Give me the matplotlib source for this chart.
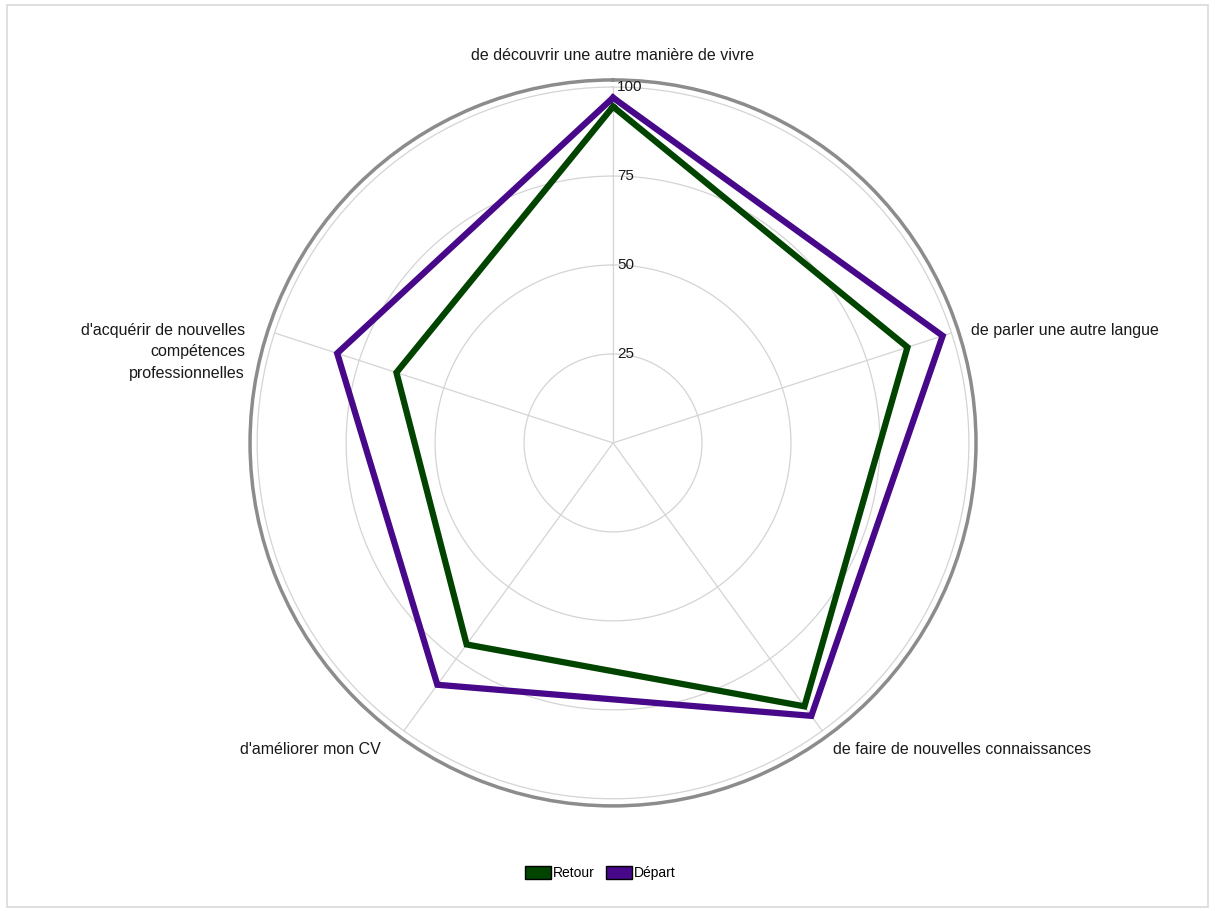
import numpy as np
import matplotlib
matplotlib.use("Agg")
import matplotlib.pyplot as plt
from matplotlib.patches import Patch, Rectangle

plt.rcParams['font.family'] = ['Liberation Sans', 'DejaVu Sans']

categories = [
    "de découvrir une autre manière de vivre",
    "de parler une autre langue",
    "de faire de nouvelles connaissances",
    "d'améliorer mon CV",
    "d'acquérir de nouvelles\ncompétences\nprofessionnelles",
]
retour = [94.5, 87, 91.5, 70, 64]
depart = [97, 97.4, 94.8, 84, 81.5]
r_ticks = [25, 50, 75, 100]
series_names = ["Retour", "Départ"]
colors = ["#004400", "#48088a"]

fig = plt.figure(figsize=(12.15, 9.11), dpi=100)
fig.patches.append(Rectangle((0.006, 0.004), 0.988, 0.99, transform=fig.transFigure,
                             fill=False, edgecolor="#d9d9d9", linewidth=1.2))

ax = fig.add_axes([0.2058, 0.1153, 0.5975, 0.797], projection="polar")
ax.set_theta_offset(np.pi / 2)
ax.set_theta_direction(-1)
rmax = 102
ax.set_ylim(0, rmax)

n = len(categories)
angles = np.arange(n) * 2 * np.pi / n

ax.grid(False)
ax.set_xticks([])
ax.set_yticks([])
ax.spines['polar'].set_color("#8c8c8c")
ax.spines['polar'].set_linewidth(2.5)

# grid circles
tt = np.linspace(0, 2 * np.pi, 400)
for v in r_ticks:
    ax.plot(tt, np.full_like(tt, v), color="#d4d4d4", lw=0.9, zorder=1)
for a in angles:
    ax.plot([a, a], [0, 100], color="#d4d4d4", lw=0.9, zorder=1)

for v in r_ticks:
    ax.annotate(str(v), xy=(0, v), xytext=(3, 0), textcoords="offset points",
                ha="left", va="center", fontsize=11, color="#1a1a1a", zorder=5)

for vals, c in zip([retour, depart], colors):
    a2 = np.append(angles, angles[0])
    v2 = np.append(vals, vals[0])
    ax.plot(a2, v2, color=c, lw=4.5, solid_joinstyle="miter", zorder=3)

# category labels
label_pos = [
    (0.0, 109.0, "center", "center"),
    (np.deg2rad(72.6), 105.5, "left", "center"),
    (np.deg2rad(144.4), 106.0, "left", "center"),
    (np.deg2rad(217.2), 108.0, "right", "center"),
    (np.deg2rad(283.9), 106.5, "right", "center"),
]
for lab, (th, r, ha, va) in zip(categories, label_pos):
    ax.text(th, r, lab, ha=ha, va=va, fontsize=11.5, color="#1a1a1a",
            multialignment="right" if ha == "right" else "center", linespacing=1.55)

handles = [Patch(facecolor=c, edgecolor="black", linewidth=1) for c in colors]
fig.legend(handles, series_names, loc="center", bbox_to_anchor=(0.494, 0.042),
           ncol=2, frameon=False, fontsize=10, handlelength=1.9, handleheight=1.1,
           handletextpad=0.1, columnspacing=0.8)

fig.savefig("out.png", dpi=100)
